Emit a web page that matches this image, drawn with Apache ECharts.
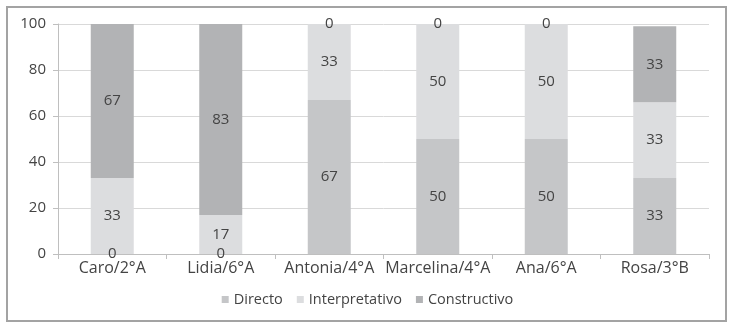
<!DOCTYPE html>
<html><head><meta charset="utf-8">
<script src="https://cdn.jsdelivr.net/npm/echarts@6/dist/echarts.min.js"></script>
<style>html,body{margin:0;padding:0;background:#fff}#c{width:735px;height:336px}</style>
</head><body><div id="c"></div>
<script>
const categories = ['Caro/2°A','Lidia/6°A','Antonia/4°A','Marcelina/4°A','Ana/6°A','Rosa/3°B'];
const directo = [0, 0, 67, 50, 50, 33];
const interpretativo = [33, 17, 33, 50, 50, 33];
const constructivo = [67, 83, 0, 0, 0, 33];
const yTicks = [0, 20, 40, 60, 80, 100];

const font = 'Open Sans';
const lbl = {show:true, position:'inside', color:'#444', fontSize:15, fontFamily:font};
function ser(name, data, color){
  return {name, type:'bar', stack:'a', data, barWidth:43, itemStyle:{color}, label:lbl};
}
const chart = echarts.init(document.getElementById('c'));
chart.setOption({
  animation:false,
  graphic:[{type:'rect', shape:{x:7,y:7,width:719,height:314}, style:{fill:'none', stroke:'#a3a3a3', lineWidth:2}}],
  grid:{left:58, right:26, top:24, bottom:82},
  legend:{bottom:24, left:'center', itemWidth:7, itemHeight:7, itemGap:14, icon:'rect',
    textStyle:{fontFamily:font, fontSize:14.5, color:'#444'},
    data:['Directo','Interpretativo','Constructivo']},
  xAxis:{type:'category', data:categories,
    axisLine:{lineStyle:{color:'#bfbfbf'}}, axisTick:{show:true, length:5, lineStyle:{color:'#bfbfbf'}},
    axisLabel:{fontFamily:font, fontSize:16, color:'#444', margin:6, interval:0}},
  yAxis:{type:'value', min:0, max:100, interval:20,
    axisLine:{show:true, lineStyle:{color:'#bfbfbf'}}, axisTick:{show:true, length:5, lineStyle:{color:'#bfbfbf'}},
    splitLine:{lineStyle:{color:'#d9d9d9'}},
    axisLabel:{fontFamily:font, fontSize:15, color:'#444', margin:12,
      formatter:v=>yTicks.includes(v)?String(v):''}},
  series:[
    ser('Directo', directo, '#c5c6c8'),
    ser('Interpretativo', interpretativo, '#dcdddf'),
    ser('Constructivo', constructivo, '#b2b3b5')
  ]
});
</script></body></html>
